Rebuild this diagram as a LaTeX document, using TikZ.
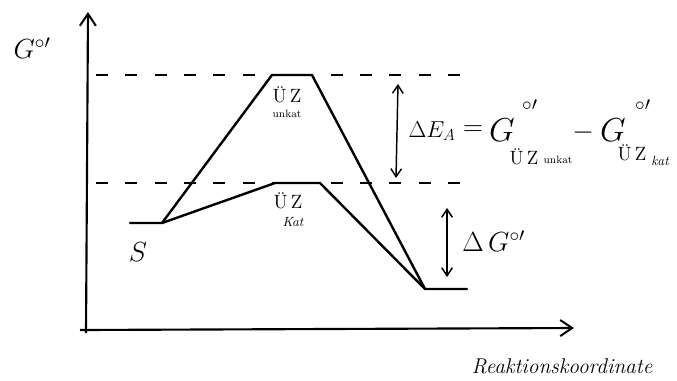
\documentclass[tikz,border=0pt]{standalone}
\usetikzlibrary{arrows.meta}
\begin{document}
\begin{tikzpicture}[x=0.75pt,y=-0.75pt,
  ln/.style={line width=1.8pt, line cap=round, line join=round},
  dsh/.style={line width=1.2pt, dash pattern=on 9pt off 13pt},
  ax/.style={line width=1.6pt, -{Straight Barb[length=9pt,width=12pt,line width=1.5pt]}},
  dbl/.style={line width=1.1pt, {Straight Barb[length=6pt,width=8pt]}-{Straight Barb[length=6pt,width=8pt]}},
  big/.style={inner sep=0pt, font=\huge},
  mid/.style={inner sep=0pt, font=\Large},
  tiny/.style={inner sep=0pt, font=\footnotesize}]
\useasboundingbox (0,0) rectangle (677,380);
% axes
\coordinate (ytop) at (88,12);
\coordinate (xend) at (574,328);
\draw[ax] (86,333) -- (ytop);
\draw[ax] (80,330) -- (xend);
\node[big] (gy) at (32,48) {$G^{\circ\prime}$};
\node[inner sep=0pt, font=\fontsize{16}{18}\selectfont\itshape] (rk) at (562,366) {Reaktionskoordinate};
% dashed levels
\coordinate (d1a) at (96,75); \coordinate (d1b) at (470,75);
\coordinate (d2a) at (96,183); \coordinate (d2b) at (470,183);
\draw[dsh] (d1a) -- (d1b);
\draw[dsh] (d2a) -- (d2b);
% energy path
\coordinate (s0) at (130,223); \coordinate (s1) at (162,223);
\coordinate (u0) at (272,75); \coordinate (u1) at (312,75);
\coordinate (k0) at (275,183); \coordinate (k1) at (320,183);
\coordinate (p0) at (425,289); \coordinate (p1) at (467,289);
\draw[ln] (s0) -- (s1) -- (u0) -- (u1) -- (p0) -- (p1);
\draw[ln] (s1) -- (k0) -- (k1) -- (p0);
\node[big] (sl) at (138,252) {$S$};
\node[mid] (uz1) at (287,95) {\"U\,Z};
\node[tiny] (uk) at (287,114) {unkat};
\node[mid] (uz2) at (288,201) {\"U\,Z};
\node[inner sep=0pt, font=\normalsize\itshape] (kk) at (293,222) {Kat};
% arrows
\coordinate (ea1) at (398,84); \coordinate (ea2) at (396,178);
\draw[dbl] (ea1) -- (ea2);
\coordinate (g1) at (447,208); \coordinate (g2) at (447,277);
\draw[dbl] (g1) -- (g2);
% equation
\node[inner sep=0pt, font=\LARGE] (ea) at (432,131) {$\Delta E_{A}$};
\node[inner sep=0pt, font=\huge] (eqs) at (473,131) {$=$};
\node[inner sep=0pt, font=\Huge] (ga) at (502,130) {$G$};
\node[inner sep=0pt, font=\huge] (gas) at (530,110) {$^{\circ\prime}$};
\node[mid] (gauz) at (524,157) {\"U\,Z};
\node[tiny] (gauk) at (558,160) {unkat};
\node[inner sep=0pt, font=\huge] (mn) at (583,133) {$-$};
\node[inner sep=0pt, font=\Huge] (gb) at (613,130) {$G$};
\node[inner sep=0pt, font=\huge] (gbs) at (643,110) {$^{\circ\prime}$};
\node[mid] (gbuz) at (632,153) {\"U\,Z};
\node[inner sep=0pt, font=\normalsize\itshape] (gbk) at (660,161) {kat};
\node[big, anchor=west] (dg) at (462,241) {$\Delta\, G^{\circ\prime}$};
\end{tikzpicture}
\end{document}
